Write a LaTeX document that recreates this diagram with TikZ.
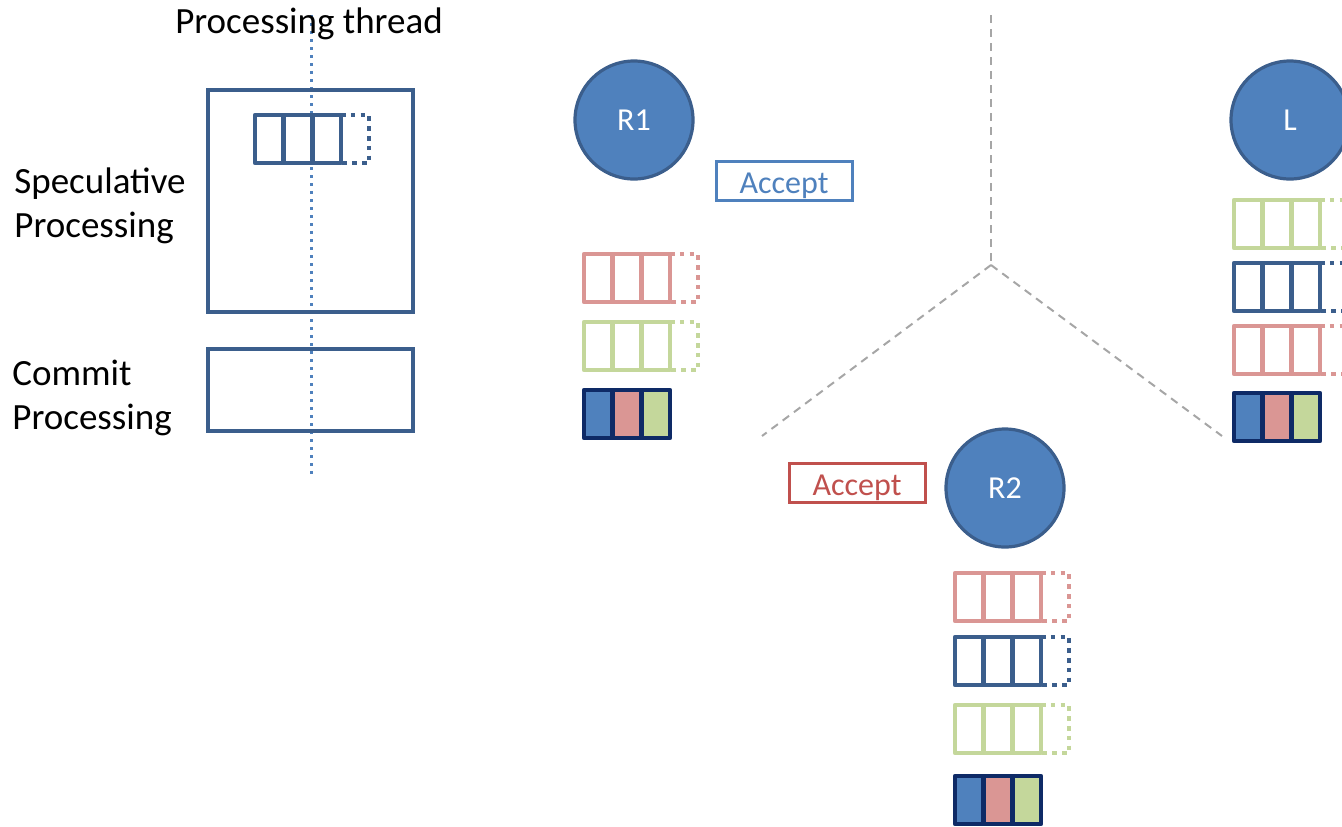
\documentclass[tikz,border=0pt]{standalone}
\usepackage{fontspec}
\setmainfont{Carlito}
\definecolor{fillblue}{HTML}{4F81BD}
\definecolor{darkblue}{HTML}{3B5E8C}
\definecolor{navy}{HTML}{0E2A66}
\definecolor{pinkq}{HTML}{DA9694}
\definecolor{greenq}{HTML}{C4D79B}
\definecolor{redacc}{HTML}{C0504D}
\definecolor{guide}{HTML}{A6A6A6}
\tikzset{
  qline/.style={line width=2.3pt, line join=round},
  qdots/.style={line width=2.3pt, dash pattern=on 2.3pt off 2.6pt},
  pics/queue/.style={code={
    \draw[qline,draw=#1] (0,0) rectangle (86,48);
    \draw[qline,draw=#1] (28.7,0) -- (28.7,48) (57.3,0) -- (57.3,48);
    \draw[qdots,draw=#1] (86,0) -- (114,0) -- (114,48) -- (86,48);
  }},
  pics/batch/.style={code={
    \fill[fillblue] (0,0) rectangle (28.7,48);
    \fill[pinkq] (28.7,0) rectangle (57.3,48);
    \fill[greenq] (57.3,0) rectangle (86,48);
    \draw[qline,draw=navy] (0,0) rectangle (86,48);
    \draw[qline,draw=navy] (28.7,0) -- (28.7,48) (57.3,0) -- (57.3,48);
  }},
  replica/.style={circle, draw=darkblue, line width=1.6pt, fill=fillblue,
    minimum size=59pt, inner sep=0pt, text=white, font=\fontsize{16}{19}\selectfont},
  acceptbox/.style={draw=#1, line width=1.5pt, text=#1, minimum width=68pt,
    minimum height=19.5pt, inner sep=0pt, text height=12.5pt, text depth=0pt,
    font=\fontsize{16}{19}\selectfont},
  label/.style={font=\fontsize{18.5}{22}\selectfont, inner sep=0pt},
  stagebox/.style={draw=darkblue, line width=2.2pt},
  guideline/.style={draw=guide, line width=1pt, dash pattern=on 4pt off 3pt},
}
\begin{document}
\begin{tikzpicture}[x=0.5pt, y=-0.5pt]
\useasboundingbox (0,0) rectangle (1342,826);

% processing thread
\draw[fillblue, line width=1.5pt, dash pattern=on 1.5pt off 2.5pt] (311,15) -- (311,477);
\node[label] (thread) at (309,24) {Processing thread};

% stages
\draw[stagebox] (208,90) rectangle (413,312);
\pic at (255,115) {queue=darkblue};
\draw[stagebox] (208,349) rectangle (413,431);
\node[label, anchor=west, align=left] (speclbl) at (14,206) {Speculative\\Processing};
\node[label, anchor=west, align=left] (commitlbl) at (12,398) {Commit\\Processing};

% replica R1
\node[replica] (r1) at (634,120) {R1};
\node[acceptbox=fillblue] (acc1) at (784,181) {Accept};
\pic at (584,254) {queue=pinkq};
\pic at (584,322) {queue=greenq};
\pic at (584,390) {batch};

% leader L
\node[replica] (l) at (1290,120) {L};
\pic at (1234,200) {queue=greenq};
\pic at (1234,263) {queue=darkblue};
\pic at (1234,326) {queue=pinkq};
\pic at (1234,393) {batch};

% replica R2
\node[replica] (r2) at (1005,488) {R2};
\node[acceptbox=redacc] (acc2) at (857,483) {Accept};
\pic at (955,573) {queue=pinkq};
\pic at (955,637) {queue=darkblue};
\pic at (955,705) {queue=greenq};
\pic at (955,776) {batch};

% partition guides
\coordinate (hub) at (991,265);
\coordinate (top) at (991,15);
\coordinate (lft) at (762,436);
\coordinate (rgt) at (1222,436);
\draw[guideline] (top) -- (hub);
\draw[guideline] (hub) -- (lft);
\draw[guideline] (hub) -- (rgt);
\end{tikzpicture}
\end{document}
